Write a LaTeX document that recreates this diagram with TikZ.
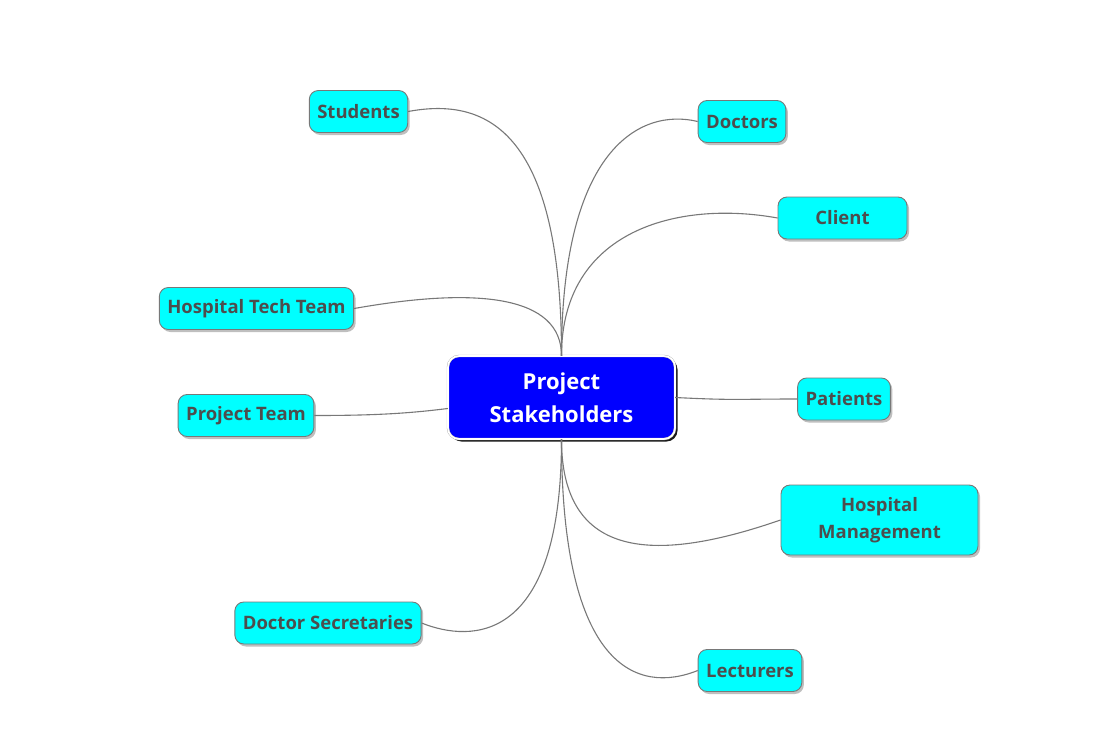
\documentclass[tikz,border=0pt]{standalone}
\usepackage{fontspec}
\setmainfont{Open Sans}
\usetikzlibrary{shadows}
\definecolor{leafcyan}{RGB}{0,255,255}
\definecolor{hubblue}{RGB}{0,0,255}
\definecolor{labelgray}{RGB}{77,77,77}
\definecolor{linkgray}{RGB}{120,120,120}

\begin{document}
\begin{tikzpicture}[x=1pt,y=-1pt]
\tikzstyle{leaf}=[draw=linkgray,line width=0.9pt,fill=leafcyan,rounded corners=9pt,
  minimum height=42pt,inner xsep=8pt,text=labelgray,align=center,
  font=\fontsize{18.5}{27.5}\selectfont\bfseries,
  drop shadow={shadow xshift=2pt,shadow yshift=-2.5pt,fill=black,opacity=.25}]
\tikzstyle{hubbox}=[draw=gray!60,double=white,double distance=1.6pt,fill=hubblue,rounded corners=11pt,
  minimum width=227pt,minimum height=83pt,text=white,align=center,
  font=\fontsize{22}{33}\selectfont\bfseries,
  drop shadow={shadow xshift=2.5pt,shadow yshift=-2.5pt,fill=black,opacity=.9}]
\tikzstyle{link}=[linkgray,line width=1.1pt]
\useasboundingbox (0,0) rectangle (1103,755);
% stakeholder nodes
\node[hubbox] (hub) at (561.5,397.5) {Project\\Stakeholders};
\node[leaf] (stud) at (358.5,111.5) {Students};
\node[leaf] (doc) at (742,121.5) {Doctors};
\node[leaf,minimum width=129pt] (cli) at (842.5,218) {Client};
\node[leaf] (htt) at (256.5,308.5) {Hospital Tech Team};
\node[leaf] (pt) at (246,415.5) {Project Team};
\node[leaf] (pat) at (844,399) {Patients};
\node[leaf,minimum width=197pt,minimum height=70pt] (hm) at (879.5,520) {Hospital\\Management};
\node[leaf] (sec) at (328,623) {Doctor Secretaries};
\node[leaf] (lec) at (750,670.5) {Lecturers};
% links from the hub
\draw[link] (hub.north) .. controls +(0,-230) and +(75,-14) .. (stud.east);
\draw[link] (hub.north) .. controls +(0,-206) and +(-58,-14) .. (doc.west);
\draw[link] (hub.north) .. controls +(0,-126) and +(-99,-18) .. (cli.west);
\draw[link] (hub.north) .. controls +(0,-60) and +(124,-22) .. (htt.east);
\draw[link] ([yshift=-11pt]hub.west) .. controls +(-40,5) and +(60,0) .. (pt.east);
\draw[link] (hub.east) .. controls +(60,3) and +(-60,0) .. (pat.west);
\draw[link] (hub.south) .. controls +(0,130) and +(-110,38) .. (hm.west);
\draw[link] (hub.south) .. controls +(0,205) and +(50,20) .. (sec.east);
\draw[link] (hub.south) .. controls +(0,230) and +(-60,24) .. (lec.west);
\end{tikzpicture}
\end{document}
